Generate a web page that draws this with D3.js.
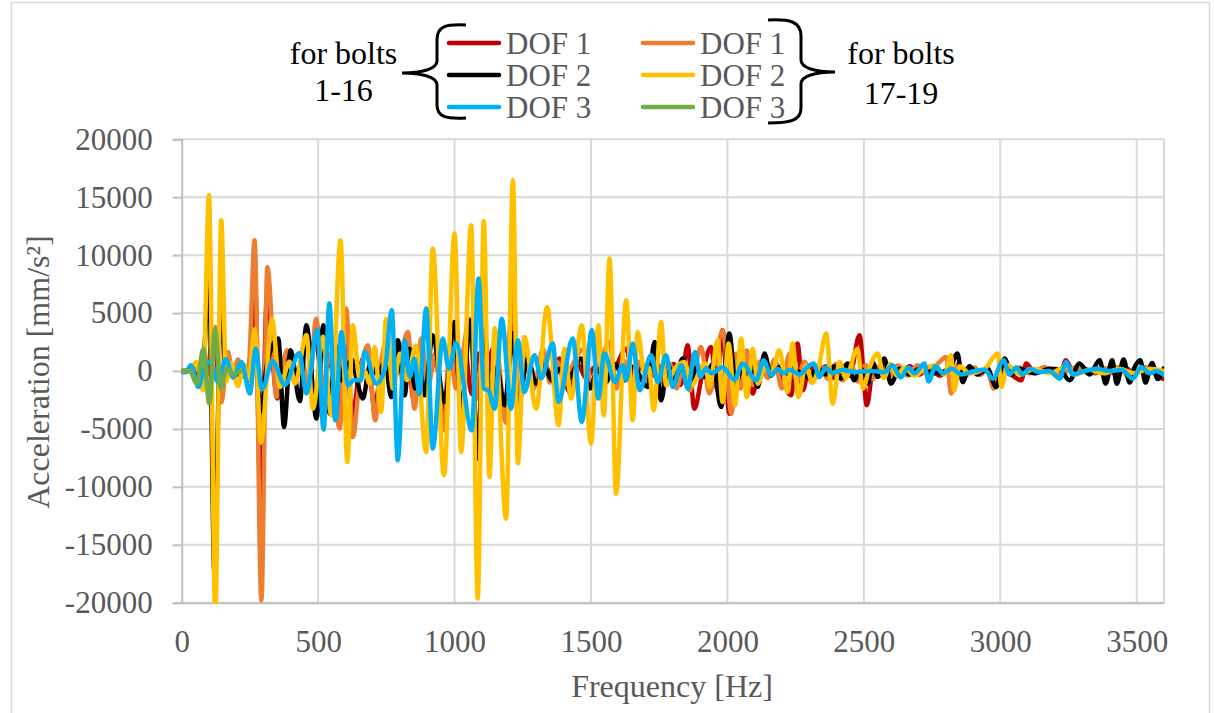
<!DOCTYPE html>
<html>
<head>
<meta charset="utf-8">
<script src="https://cdn.jsdelivr.net/npm/d3@7"></script>
<style>
  html, body { margin: 0; padding: 0; background: #fff; }
  svg { display: block; font-family: "Liberation Serif", "Times New Roman", serif; }
</style>
</head>
<body>
<svg id="chart" width="1214" height="713"></svg>
<script>
// ---------- data (frequency [Hz], acceleration [mm/s^2]) ----------
const freqTicks = [0, 500, 1000, 1500, 2000, 2500, 3000, 3500];
const accTicks = [-20000, -15000, -10000, -5000, 0, 5000, 10000, 15000, 20000];

const legendGroups = ["for bolts 1-16", "for bolts 17-19"];
const dofNames = ["DOF 1", "DOF 2", "DOF 3"];

const dof1Bolts1to16 = [[0,0],[49,100],[78,-800],[102,600],[122,2000],[141,-1500],[170,800],[199,-400],[228,500],[247,-500],[268,8000],[290,-12000],[312,6300],[350,-2380],[383,1200],[410,-700],[438,500],[464,-1000],[490,3000],[516,-1200],[545,1000],[576,-3500],[600,3800],[624,-4000],[655,500],[680,1500],[706,-3000],[733,400],[752,1930],[773,-600],[800,500],[826,2400],[850,-2500],[875,2000],[900,-1000],[930,1000],[960,-3500],[985,1600],[1008,-1200],[1037,1930],[1063,-2000],[1089,1500],[1115,-1000],[1140,1930],[1185,-4110],[1210,5500],[1236,-2000],[1268,1000],[1298,-1000],[1327,800],[1356,-500],[1385,1070],[1421,-1810],[1452,600],[1481,-600],[1518,400],[1554,-700],[1591,400],[1629,1930],[1657,-800],[1686,600],[1716,-600],[1745,500],[1774,-800],[1803,600],[1829,-1200],[1854,2220],[1879,-3250],[1906,-500],[1940,2070],[1961,-1500],[1982,3510],[2007,-3680],[2034,800],[2049,-500],[2068,1500],[2093,-1950],[2118,500],[2148,-500],[2177,600],[2233,-2100],[2257,2370],[2276,-1670],[2301,400],[2331,-500],[2360,400],[2390,-600],[2419,500],[2448,-400],[2484,3080],[2511,-2960],[2536,500],[2565,-400],[2594,300],[2631,-300],[2668,400],[2704,-300],[2741,300],[2778,-400],[2814,300],[2851,-300],[2888,300],[2924,-300],[2950,200],[2973,-1090],[2998,300],[3034,-200],[3077,-800],[3095,640],[3126,-200],[3162,300],[3199,-300],[3218,-600],[3240,920],[3272,-300],[3309,200],[3345,-200],[3382,200],[3419,-200],[3456,300],[3492,-200],[3529,300],[3566,-200],[3595,-660]];

const dof1Bolts17to19 = [[0,0],[30,0],[56,300],[78,-1500],[100,1000],[123,3800],[145,-2700],[170,1640],[188,-600],[206,1000],[228,-500],[247,800],[267,11290],[292,-19800],[314,8980],[348,-2250],[386,1800],[415,-1000],[441,800],[467,-1500],[493,4520],[518,-1500],[543,1500],[579,-4970],[603,5390],[627,-5700],[653,-500],[682,2220],[709,-4260],[730,500],[748,2500],[770,-800],[796,600],[829,3370],[853,-3250],[878,2800],[902,-1500],[928,1500],[963,-5120],[982,2220],[1005,-1500],[1027,1000],[1055,4520],[1078,-2500],[1107,2000],[1129,-3000],[1155,1500],[1189,-4500],[1214,7400],[1236,-3000],[1261,1500],[1290,-1500],[1324,1930],[1349,-1000],[1375,800],[1404,-1200],[1430,400],[1476,1930],[1503,-1500],[1532,500],[1568,2500],[1592,-1520],[1620,900],[1649,-1000],[1678,800],[1708,-800],[1737,500],[1763,-1000],[1789,600],[1814,-1500],[1840,800],[1862,-1700],[1903,2070],[1934,-1950],[1983,3510],[2015,-3680],[2032,1500],[2049,-1500],[2071,1800],[2093,-1200],[2118,800],[2148,-600],[2173,1000],[2199,-1500],[2228,1500],[2254,-800],[2283,800],[2309,-1000],[2338,500],[2368,-700],[2397,600],[2423,-800],[2452,700],[2477,-900],[2507,500],[2532,-700],[2565,600],[2594,-400],[2624,500],[2660,-400],[2697,500],[2734,-300],[2770,600],[2802,1210],[2820,-1950],[2843,600],[2873,-400],[2906,300],[2930,-300],[2953,300],[2975,-1520],[3004,600],[3034,-300],[3070,300],[3107,-200],[3162,300],[3218,-300],[3273,300],[3327,-200],[3382,200],[3437,300],[3474,-600],[3529,300],[3598,-300]];

const dof2Bolts1to16 = [[0,0],[30,0],[60,-400],[78,300],[100,8300],[120,-17500],[144,6500],[162,-100],[184,300],[206,-200],[225,500],[243,-800],[268,2000],[290,-3500],[312,500],[354,2800],[375,-4840],[399,1790],[433,-2600],[457,3950],[494,-4110],[519,3950],[542,-3680],[563,2220],[587,-800],[605,300],[624,1000],[642,-800],[664,-2380],[690,500],[719,-300],[745,800],[768,-2250],[792,2650],[817,-2100],[835,1930],[855,-1500],[869,800],[890,-2100],[920,3080],[963,-2680],[1000,4230],[1024,-3540],[1059,4380],[1085,-7570],[1107,4380],[1132,-2680],[1155,300],[1183,-2960],[1214,3230],[1232,-3250],[1268,1070],[1299,-1090],[1331,300],[1356,-800],[1386,200],[1415,-700],[1464,1070],[1496,-1500],[1525,200],[1554,-1000],[1587,600],[1624,-800],[1653,350],[1708,-1380],[1733,2500],[1757,-2530],[1781,500],[1807,-700],[1836,1070],[1862,-900],[1888,300],[1917,-500],[1946,600],[1977,-3110],[2007,3230],[2030,-1200],[2056,500],[2070,-300],[2088,400],[2111,-1380],[2136,1500],[2159,-400],[2184,300],[2210,-300],[2236,200],[2270,-200],[2302,-600],[2331,300],[2360,-300],[2393,400],[2415,-660],[2440,640],[2465,-800],[2490,200],[2514,-1090],[2532,780],[2551,-500],[2575,1070],[2599,-1090],[2631,200],[2668,-300],[2704,200],[2759,-200],[2814,200],[2843,1500],[2862,-950],[2887,400],[2916,-300],[2953,200],[2985,-1380],[3016,1070],[3041,-300],[3071,200],[3126,-200],[3181,200],[3218,100],[3254,-800],[3290,640],[3327,-300],[3364,920],[3386,-1090],[3410,920],[3427,-1090],[3452,1000],[3474,-1000],[3492,300],[3513,920],[3532,-1000],[3556,700],[3577,-700],[3598,200]];

const dof2Bolts17to19 = [[0,0],[30,100],[53,780],[78,-1670],[100,15170],[123,-21000],[145,13010],[163,-900],[181,700],[206,-1300],[228,500],[245,-700],[268,3600],[290,-6200],[331,4500],[360,-1380],[395,800],[415,-1100],[457,3100],[481,-3250],[518,2950],[548,-3830],[582,11290],[607,-7860],[627,3950],[652,-660],[670,0],[689,-1100],[707,2070],[731,-3540],[749,4520],[774,-1520],[800,1500],[825,-800],[858,2200],[896,-7000],[920,10570],[961,-9000],[1000,11870],[1024,-7000],[1061,12580],[1085,-19630],[1107,12930],[1128,-9150],[1147,3690],[1189,-12750],[1214,16470],[1232,-7970],[1256,2940],[1299,-3250],[1339,5530],[1381,-4690],[1403,1930],[1427,-2380],[1466,3950],[1500,-6270],[1527,3950],[1547,-3830],[1568,9710],[1592,-10590],[1629,6110],[1653,-4260],[1671,3370],[1697,-300],[1712,300],[1730,-3390],[1757,4230],[1775,-1230],[1807,200],[1842,780],[1869,-1200],[1917,640],[1935,-1380],[1964,2650],[1982,-2680],[2004,2370],[2028,-2960],[2050,2800],[2071,-2250],[2093,1930],[2111,-1090],[2136,300],[2162,-300],[2190,1790],[2221,-1810],[2239,2370],[2260,-2250],[2287,500],[2312,-1000],[2334,300],[2362,3230],[2386,-2820],[2411,800],[2433,-600],[2477,1930],[2496,-1520],[2521,300],[2551,1500],[2573,-600],[2598,600],[2620,-400],[2649,300],[2686,-400],[2723,200],[2759,500],[2796,-300],[2819,1360],[2831,-1670],[2851,400],[2888,-200],[2943,200],[2991,1500],[3004,-1380],[3027,500],[3071,-300],[3126,200],[3181,-200],[3242,400],[3272,-300],[3327,100],[3382,-200],[3437,200],[3492,-200],[3547,200],[3598,0]];

const dof3Bolts1to16 = [[0,-100],[16,-100],[33,500],[61,-1380],[82,300],[104,800],[133,-950],[162,1010],[188,-520],[219,780],[250,-1950],[271,1930],[294,-1600],[333,850],[378,-1200],[431,1550],[457,-1950],[497,3580],[520,-5050],[541,5820],[563,-4260],[585,3370],[609,-1230],[631,-800],[657,-800],[670,1640],[713,-1090],[745,200],[770,5240],[792,-7710],[817,2650],[836,-500],[853,1070],[871,-2000],[896,5390],[920,-6700],[957,2800],[979,200],[1006,2370],[1063,-5120],[1088,7980],[1107,-1520],[1125,-1700],[1147,-3250],[1173,4520],[1207,-3250],[1232,2650],[1256,-1810],[1293,1360],[1317,-630],[1360,2370],[1381,-2680],[1433,2800],[1466,-4400],[1503,3510],[1527,-2380],[1549,1500],[1588,-950],[1616,500],[1629,-800],[1653,2370],[1678,-1670],[1720,1360],[1745,-950],[1775,1360],[1800,-1380],[1830,500],[1855,-1520],[1881,1640],[1901,-520],[1922,230],[1942,-200],[1982,320],[2026,-740],[2056,640],[2105,-800],[2133,920],[2160,-370],[2184,200],[2206,-200],[2228,100],[2265,-300],[2291,300],[2316,640],[2337,-520],[2360,300],[2386,-200],[2423,100],[2466,-100],[2521,0],[2576,-100],[2605,500],[2635,-540],[2664,300],[2686,-200],[2722,640],[2737,-900],[2763,400],[2789,-200],[2822,200],[2858,-300],[2906,0],[2943,100],[2973,-660],[3012,920],[3034,-300],[3059,300],[3082,-300],[3107,200],[3144,-100],[3181,0],[3218,-660],[3242,780],[3265,-300],[3309,0],[3353,200],[3401,0],[3445,100],[3486,-660],[3516,350],[3547,-200],[3573,0],[3597,-300]];

const dof3Bolts17to19 = [[0,0],[30,0],[55,-1100],[79,1900],[101,-2800],[122,3600],[143,-1500],[165,200],[190,-300],[215,0]];

// drawing order follows the spreadsheet series order
const seriesList = [
  { name: "DOF 1", group: 0, color: "#C00000", data: dof1Bolts1to16 },
  { name: "DOF 1", group: 1, color: "#ED7D31", data: dof1Bolts17to19 },
  { name: "DOF 2", group: 0, color: "#000000", data: dof2Bolts1to16 },
  { name: "DOF 2", group: 1, color: "#FFC000", data: dof2Bolts17to19 },
  { name: "DOF 3", group: 0, color: "#00B0F0", data: dof3Bolts1to16 },
  { name: "DOF 3", group: 1, color: "#70AD47", data: dof3Bolts17to19 }
];

// ---------- layout ----------
const svg = d3.select("#chart");
const W = 1214, H = 713;
const plot = { left: 181.7, right: 1164, top: 139.3, bottom: 602.7 };
const textGray = "#595959";
const gridColor = "#d9d9d9";
const fontFam = '"Liberation Serif", "Times New Roman", serif';

svg.append("rect").attr("x", 0).attr("y", 0).attr("width", W).attr("height", H).attr("fill", "#fff");
svg.append("rect").attr("x", 11.5).attr("y", 2.5).attr("width", 1198).attr("height", 740)
  .attr("fill", "none").attr("stroke", "#d9d9d9").attr("stroke-width", 1.5);

const x = d3.scaleLinear().domain([0, 3600]).range([plot.left, plot.right]);
const y = d3.scaleLinear().domain([-20000, 20000]).range([plot.bottom, plot.top]);

// grid
const grid = svg.append("g");
grid.selectAll("line.h").data(accTicks).join("line")
  .attr("x1", plot.left).attr("x2", plot.right)
  .attr("y1", d => y(d)).attr("y2", d => y(d))
  .attr("stroke", gridColor).attr("stroke-width", 2);
grid.selectAll("line.v").data(freqTicks.filter(d => d > 0)).join("line")
  .attr("x1", d => x(d)).attr("x2", d => x(d))
  .attr("y1", plot.top).attr("y2", plot.bottom)
  .attr("stroke", gridColor).attr("stroke-width", 2);
grid.append("line").attr("x1", plot.right).attr("x2", plot.right)
  .attr("y1", plot.top).attr("y2", plot.bottom)
  .attr("stroke", gridColor).attr("stroke-width", 2);

// axes (plain hyphen-minus as in the original)
const fmt = d => String(d);
const yAxis = svg.append("g").attr("transform", `translate(${plot.left},0)`)
  .call(d3.axisLeft(y).tickValues(accTicks).tickSize(9).tickPadding(20).tickFormat(fmt));
const xAxis = svg.append("g").attr("transform", `translate(0,${plot.bottom})`)
  .call(d3.axisBottom(x).tickValues(freqTicks).tickSize(0).tickPadding(27).tickFormat(fmt));
[yAxis, xAxis].forEach(a => {
  a.attr("font-family", fontFam);
  a.select(".domain").attr("stroke", "#bfbfbf").attr("stroke-width", 2);
  a.selectAll(".tick line").attr("stroke", "#bfbfbf").attr("stroke-width", 2);
  a.selectAll(".tick text").attr("fill", textGray)
    .style("font-family", fontFam)
    .style("font-size", "31px");
});

// axis titles
svg.append("text").attr("x", 672).attr("y", 697).attr("text-anchor", "middle")
  .attr("fill", textGray).style("font-size", "32px").text("Frequency [Hz]");
svg.append("text").attr("transform", "translate(49,372) rotate(-90)").attr("text-anchor", "middle")
  .attr("fill", textGray).style("font-size", "32px").text("Acceleration [mm/s²]");

// lines
svg.append("defs").append("clipPath").attr("id", "plotClip").append("rect")
  .attr("x", plot.left).attr("y", plot.top - 1)
  .attr("width", plot.right - plot.left).attr("height", plot.bottom - plot.top + 2);
const line = d3.line().x(d => x(d[0])).y(d => y(d[1])).curve(d3.curveMonotoneX);
const lines = svg.append("g").attr("clip-path", "url(#plotClip)");
seriesList.forEach(s => {
  lines.append("path").datum(s.data).attr("d", line)
    .attr("fill", "none").attr("stroke", s.color).attr("stroke-width", 4.5)
    .attr("stroke-linejoin", "round").attr("stroke-linecap", "round");
});

// legend
const rowY = [43, 75, 107];
const colLine = [[449, 499], [643, 693]];
const colText = [506, 700];
const leg = svg.append("g");
seriesList.forEach((s, i) => {
  const row = dofNames.indexOf(s.name);
  const c = s.group;
  leg.append("line").attr("x1", colLine[c][0]).attr("x2", colLine[c][1])
    .attr("y1", rowY[row]).attr("y2", rowY[row])
    .attr("stroke", s.color).attr("stroke-width", 4.5).attr("stroke-linecap", "round");
  leg.append("text").attr("x", colText[c]).attr("y", rowY[row] + 11)
    .attr("fill", textGray).style("font-size", "31px").text(s.name);
});

// braces
leg.append("path")
  .attr("d", "M466,25 C446,24 437,26 437,40 L437,61 C437,69 422,73 402,73 C422,73 437,77 437,85 L437,105 C437,117 446,119 466,118")
  .attr("fill", "none").attr("stroke", "#000").attr("stroke-width", 3);
leg.append("path")
  .attr("d", "M768,20 C789,19 801,21 801,36 L801,60 C801,68 815,72 835,72 C815,72 801,76 801,84 L801,108 C801,121 789,123 768,123")
  .attr("fill", "none").attr("stroke", "#000").attr("stroke-width", 3);

// group labels
const groupPos = [{ x: 343.5, y1: 64, y2: 101 }, { x: 901, y1: 64, y2: 104 }];
legendGroups.forEach((g, i) => {
  const parts = g.split(" ");
  const p = groupPos[i];
  leg.append("text").attr("x", p.x).attr("y", p.y1).attr("text-anchor", "middle")
    .attr("fill", "#000").style("font-size", "32px").text(parts[0] + " " + parts[1]);
  leg.append("text").attr("x", p.x).attr("y", p.y2).attr("text-anchor", "middle")
    .attr("fill", "#000").style("font-size", "32px").text(parts[2]);
});
</script>
</body>
</html>
